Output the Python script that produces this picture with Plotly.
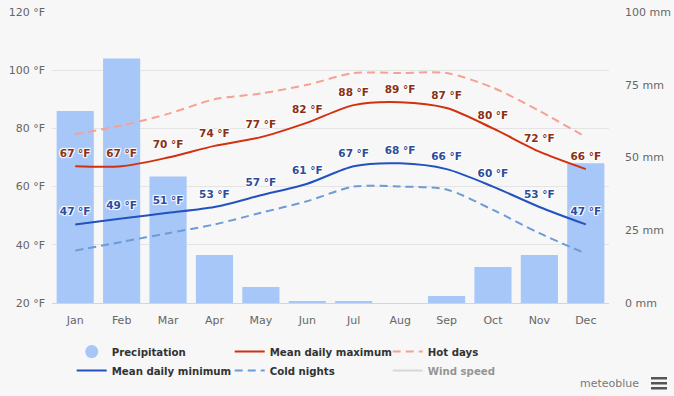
import plotly.graph_objects as go

months = ["Jan", "Feb", "Mar", "Apr", "May", "Jun", "Jul", "Aug", "Sep", "Oct", "Nov", "Dec"]
precip_mm = [66, 84, 43.5, 16.5, 5.5, 0.7, 0.7, 0, 2.4, 12.4, 16.5, 48]
mean_max_f = [67, 67, 70, 74, 77, 82, 88, 89, 87, 80, 72, 66]
mean_min_f = [47, 49, 51, 53, 57, 61, 67, 68, 66, 60, 53, 47]
hot_days_f = [78, 81, 85, 90, 92, 95, 99, 99, 99, 94, 86, 77]
cold_nights_f = [38, 41, 44, 47, 51, 55, 60, 60, 59, 52, 44, 37]

temp_ticks = [20, 40, 60, 80, 100, 120]
mm_ticks = [0, 25, 50, 75, 100]

BAR = "#a7c7f8"
MAXC = "#d3300f"
MINC = "#2152be"
HOT = "#f5a193"
COLD = "#6c9bd8"
FONT = "DejaVu Sans"
outline = "1px 1px 1px #fff, -1px -1px 1px #fff, 1px -1px 1px #fff, -1px 1px 1px #fff"
BG = "#f7f7f7"

fig = go.Figure()

fig.add_trace(go.Bar(x=months, y=precip_mm, marker=dict(color=BAR, line=dict(width=0)),
                     width=0.8, name="Precipitation", showlegend=False, yaxis="y"))
fig.add_trace(go.Scatter(x=[None], y=[None], mode="markers", name="Precipitation",
                         marker=dict(symbol="circle", size=13, color=BAR), yaxis="y2"))
fig.add_trace(go.Scatter(x=months, y=mean_max_f, mode="lines+markers+text", name="Mean daily maximum",
                         line=dict(color=MAXC, width=2, shape="spline", smoothing=0.8),
                         marker=dict(size=9, color="rgba(0,0,0,0)"),
                         text=[f"{v} °F" for v in mean_max_f], textposition="top center",
                         textfont=dict(family=FONT, size=10.5, color="#8a2f14", weight="bold", shadow=outline),
                         yaxis="y2"))
fig.add_trace(go.Scatter(x=months, y=hot_days_f, mode="lines", name="Hot days",
                         line=dict(color=HOT, width=2, dash="8px,5px", shape="spline", smoothing=0.8),
                         yaxis="y2"))
fig.add_trace(go.Scatter(x=months, y=mean_min_f, mode="lines+markers+text", name="Mean daily minimum",
                         line=dict(color=MINC, width=2, shape="spline", smoothing=0.8),
                         marker=dict(size=9, color="rgba(0,0,0,0)"),
                         text=[f"{v} °F" for v in mean_min_f], textposition="top center",
                         textfont=dict(family=FONT, size=10.5, color="#2c4c9c", weight="bold", shadow=outline),
                         yaxis="y2"))
fig.add_trace(go.Scatter(x=months, y=cold_nights_f, mode="lines", name="Cold nights",
                         line=dict(color=COLD, width=2, dash="8px,5px", shape="spline", smoothing=0.8),
                         yaxis="y2"))
fig.add_trace(go.Scatter(x=months, y=[None] * 12, mode="lines", name="Wind speed",
                         line=dict(color="#bbbbbb", width=2), visible="legendonly", yaxis="y2"))

fig.update_layout(
    width=674, height=396,
    margin=dict(l=52, r=65, t=12, b=93, autoexpand=False),
    paper_bgcolor=BG, plot_bgcolor=BG,
    font=dict(family=FONT, size=11, color="#666666"),
    xaxis=dict(range=[-0.5, 11.5], showgrid=False, showline=True, linecolor="#ccd6eb", linewidth=1,
               ticks="", tickfont=dict(size=11, color="#666666"), automargin=False,
               ticklabelstandoff=7),
    yaxis=dict(side="right", range=[0, 100], tickvals=mm_ticks,
               ticktext=[f"{v} mm" for v in mm_ticks], showgrid=False, zeroline=False,
               tickfont=dict(size=11, color="#666666"), ticklabelstandoff=15, automargin=False),
    yaxis2=dict(side="left", overlaying="y", range=[20, 120], tickvals=temp_ticks,
                ticktext=[f"{v} °F" for v in temp_ticks], showgrid=True, gridcolor="#e4e4e4",
                zeroline=False, tickfont=dict(size=11, color="#666666"), ticklabelstandoff=6,
                automargin=False),
    legend=dict(orientation="h", x=0.0354, xanchor="left", y=-0.117, yanchor="top",
                entrywidth=113, entrywidthmode="pixels",
                font=dict(family=FONT, size=10.2, color="#333333", weight="bold"),
                bgcolor="rgba(0,0,0,0)", itemclick=False, tracegroupgap=0),
    showlegend=True,
    annotations=[dict(text="meteoblue", x=(641 - 52) / 557, y=(303 - 383) / 291,
                      xref="paper", yref="paper",
                      xanchor="right", yanchor="middle", showarrow=False,
                      font=dict(family=FONT, size=11, color="#777777"))],
)

for py in (377, 382, 387):
    fig.add_shape(type="rect", xref="paper", yref="paper",
                  x0=(651 - 52) / 557, x1=(667 - 52) / 557,
                  y0=(303 - py) / 291, y1=(303 - py - 2.5) / 291,
                  fillcolor="#555555", line=dict(width=0))

fig.write_html("out.html", config={"displayModeBar": False},
               post_script="document.body.style.margin='0';document.body.style.background='#f7f7f7';document.body.style.overflow='hidden';")
